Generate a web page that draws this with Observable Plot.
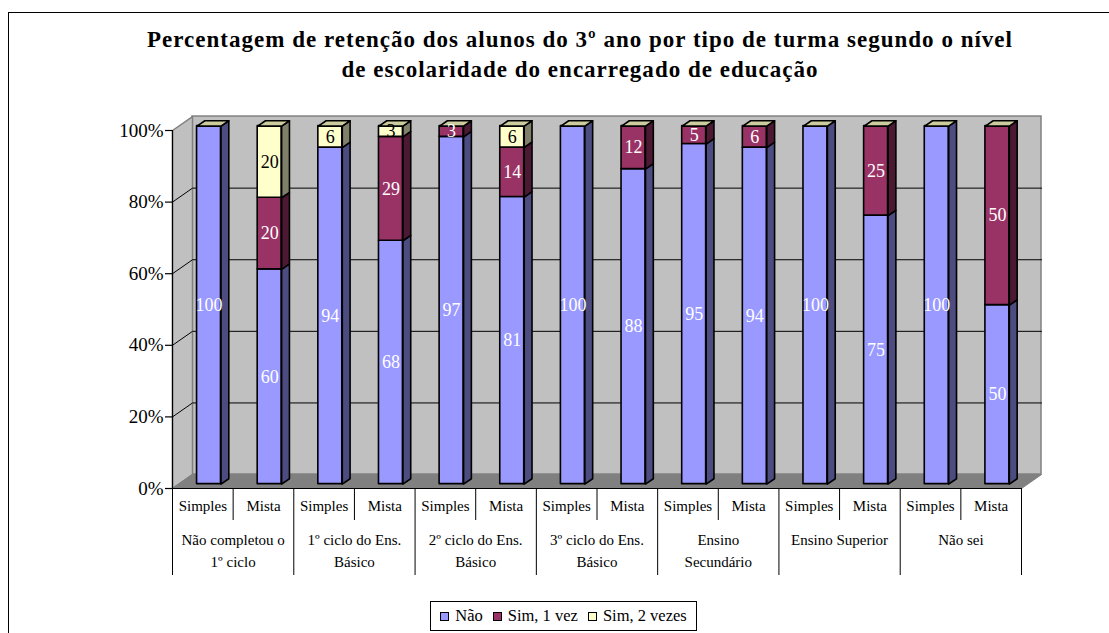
<!DOCTYPE html>
<html><head><meta charset="utf-8">
<script src="https://cdn.jsdelivr.net/npm/d3@7"></script>
<script src="https://cdn.jsdelivr.net/npm/@observablehq/plot@0.6"></script>
<style>
body{margin:0;background:#fff;width:1109px;height:633px;overflow:hidden;position:relative;font-family:"Liberation Serif",serif;}
#frame{position:absolute;left:8px;top:12px;width:1200px;height:700px;border-top:1px solid #000;border-left:1px solid #000;}
#title{position:absolute;left:0;top:25px;width:1160px;text-align:center;font-weight:bold;font-size:23px;line-height:30px;color:#000;}
#title span{white-space:nowrap;}
#chart{position:absolute;left:0;top:100px;}
#legend{position:absolute;left:430px;top:601px;width:265px;height:28px;border:1px solid #000;background:#fff;display:flex;align-items:center;justify-content:center;font-size:16.5px;color:#000;}
#legend .it{display:flex;align-items:center;margin:0 5px;}
#legend .sw{width:7px;height:7px;border:1px solid #000;margin-right:6px;}
</style></head>
<body>
<div id="frame"></div>
<div id="title"><span id="t1">Percentagem de retenção dos alunos do 3º ano por tipo de turma segundo o nível</span><br><span id="t2">de escolaridade do encarregado de educação</span></div>
<div id="chart"></div>
<div id="legend"></div>
<script>
// ---- data ----
const groups = ["Não completou o\n1º ciclo", "1º ciclo do Ens.\nBásico", "2º ciclo do Ens.\nBásico", "3º ciclo do Ens.\nBásico", "Ensino\nSecundário", "Ensino Superior", "Não sei"];
const types = ["Simples", "Mista"];
const series = ["Não", "Sim, 1 vez", "Sim, 2 vezes"];
const nao  = [100, 60, 94, 68, 97, 81, 100, 88, 95, 94, 100, 75, 100, 50];
const sim1 = [0, 20, 0, 29, 3, 14, 0, 12, 5, 6, 0, 25, 0, 50];
const sim2 = [0, 20, 6, 3, 0, 6, 0, 0, 0, 0, 0, 0, 0, 0];
const yTicks = [0, 0.2, 0.4, 0.6, 0.8, 1];

// ---- styles ----
const frontColors = ["#9999FF", "#993366", "#FFFFCC"];
const sideColors = ["#4C4C80", "#4C1933", "#80806A"];
const topColor = "#CCCC9E";
const labelColors = ["#FFFFFF", "#FFFFFF", "#000000"];

// title letter spacing to match the reference's wide serif
(function () {
  const t1 = document.getElementById("t1"), t2 = document.getElementById("t2");
  const w = t1.getBoundingClientRect().width;
  const ls = Math.max(0, (866 - w) / t1.textContent.length);
  t1.style.letterSpacing = ls + "px";
  t2.style.letterSpacing = ls + "px";
})();

// 3D projection constants (data units)
const N = nao.length;
const DX = 0.33, DY = 0.039, Z0 = 0.31, Z1 = 0.70, HW = 0.1975;

const seriesVals = [nao, sim1, sim2];
const fronts = [], sides = [], tops = [], labels = [];
for (let i = 0; i < N; i++) {
  const vals = seriesVals.map(a => a[i]);
  const total = d3.sum(vals);
  let cum = 0;
  const xl = i + 0.5 - HW, xr = i + 0.5 + HW;
  vals.forEach((v, s) => {
    const lo = cum / total; cum += v; const hi = cum / total;
    if (v <= 0) return;
    fronts.push({s, x1: xl + Z0 * DX, x2: xr + Z0 * DX, y1: lo + Z0 * DY, y2: hi + Z0 * DY});
    const id = `s${i}_${s}`;
    sides.push({s, id, x: xr + Z0 * DX, y: lo + Z0 * DY},
               {s, id, x: xr + Z1 * DX, y: lo + Z1 * DY},
               {s, id, x: xr + Z1 * DX, y: hi + Z1 * DY},
               {s, id, x: xr + Z0 * DX, y: hi + Z0 * DY});
    labels.push({s, x: i + 0.5 + Z0 * DX, y: (lo + hi) / 2 + Z0 * DY, text: String(v)});
  });
  const id = `t${i}`;
  tops.push({id, x: xl + Z0 * DX, y: 1 + Z0 * DY}, {id, x: xr + Z0 * DX, y: 1 + Z0 * DY},
            {id, x: xr + Z1 * DX, y: 1 + Z1 * DY}, {id, x: xl + Z1 * DX, y: 1 + Z1 * DY});
}

const sideWall = [{x: 0, y: 0}, {x: DX, y: DY}, {x: DX, y: 1 + DY}, {x: 0, y: 1}];
const floor = [{x: 0, y: 0}, {x: N, y: 0}, {x: N + DX, y: DY}, {x: DX, y: DY}];
const grid = [];
yTicks.filter(v => v > 0 && v < 1).forEach(v => {
  grid.push({v, x: 0, y: v}, {v, x: DX, y: v + DY}, {v, x: N + DX, y: v + DY});
});

const cats = d3.range(N).map(i => ({x: i + 0.5, text: types[i % 2]}));
const grpLabels = groups.map((g, k) => ({x: 2 * k + 1, text: g}));
const shortSeps = d3.range(N).filter(i => i % 2 === 1);
const longSeps = d3.range(0, N + 1, 2);

const font = "Liberation Serif";
const marks = [
  Plot.rect([{}], {x1: DX, x2: N + DX, y1: DY, y2: 1 + DY, fill: "#C0C0C0", stroke: "#808080", strokeWidth: 1.5}),
  Plot.line(sideWall, {x: "x", y: "y", fill: "#C0C0C0", stroke: "#808080", strokeWidth: 1.5, curve: "linear-closed"}),
  Plot.line(floor, {x: "x", y: "y", fill: "#808080", stroke: "#808080", strokeWidth: 1, curve: "linear-closed"}),
  Plot.line(grid, {x: "x", y: "y", z: "v", stroke: "#000", strokeWidth: 1}),
  Plot.ruleY([0], {x1: 0, x2: N, stroke: "#000", strokeWidth: 1.2}),
  Plot.ruleX([0], {y1: 0, y2: 1, stroke: "#000", strokeWidth: 1.2}),
  Plot.ruleY(yTicks, {y: d => d, x1: 0, x2: 0, insetLeft: -7, stroke: "#000", strokeWidth: 1.2}),
  Plot.text(yTicks, {y: d => d, frameAnchor: "left", dx: -9, textAnchor: "end", text: d => d3.format(".0%")(d), fontFamily: font, fontSize: 19, fill: "#000"}),
];
series.forEach((name, s) => {
  marks.push(
    Plot.rect(fronts.filter(d => d.s === s), {x1: "x1", x2: "x2", y1: "y1", y2: "y2", fill: frontColors[s], stroke: "#000", strokeWidth: 1.6, strokeLinejoin: "round"}),
    Plot.line(sides.filter(d => d.s === s), {x: "x", y: "y", z: "id", fill: sideColors[s], stroke: "#000", strokeWidth: 1.6, curve: "linear-closed"})
  );
});
marks.push(
  Plot.line(tops, {x: "x", y: "y", z: "id", fill: topColor, stroke: "#000", strokeWidth: 1.6, curve: "linear-closed"}),
  Plot.text(labels, {x: "x", y: "y", text: "text", fill: d => labelColors[d.s], fontFamily: font, fontSize: 18}),
  Plot.ruleX(shortSeps, {x: d => d, y1: 0, y2: 0, insetBottom: -32, stroke: "#000", strokeWidth: 1}),
  Plot.ruleX(longSeps, {x: d => d, y1: 0, y2: 0, insetBottom: -87, stroke: "#000", strokeWidth: 1}),
  Plot.text(cats, {x: "x", text: "text", frameAnchor: "bottom", dy: 22, fontFamily: font, fontSize: 15, letterSpacing: 0.6, fill: "#000"}),
  Plot.text(grpLabels, {x: "x", text: "text", frameAnchor: "bottom", dy: 41, lineAnchor: "top", lineHeight: 1.47, fontFamily: font, fontSize: 15, letterSpacing: 0.5, fill: "#000"})
);

const chart = Plot.plot({
  width: 1109, height: 490,
  marginLeft: 172, marginRight: 88, marginTop: 30, marginBottom: 102,
  x: {domain: [0, N], axis: null},
  y: {domain: [0, 1], axis: null},
  style: {fontFamily: font, background: "transparent", overflow: "visible"},
  marks
});
document.getElementById("chart").appendChild(chart);

const legend = document.getElementById("legend");
series.forEach((name, s) => {
  const it = document.createElement("div"); it.className = "it";
  const sw = document.createElement("div"); sw.className = "sw"; sw.style.background = frontColors[s];
  const tx = document.createElement("span"); tx.textContent = name;
  it.appendChild(sw); it.appendChild(tx); legend.appendChild(it);
});
</script>
</body></html>
